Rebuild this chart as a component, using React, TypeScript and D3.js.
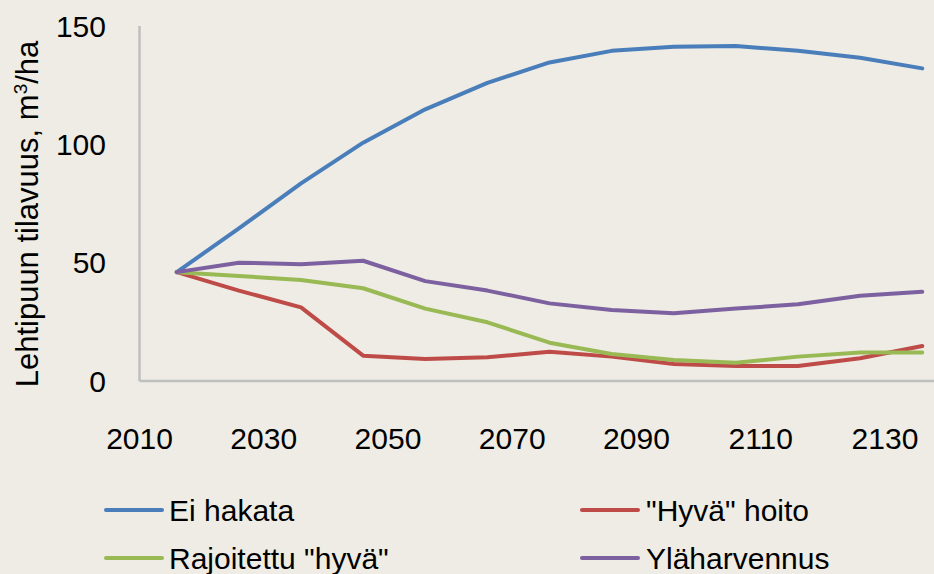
import React from "react";
import * as d3 from "d3";

const years = [2016, 2026, 2036, 2046, 2056, 2066, 2076, 2086, 2096, 2106, 2116, 2126, 2136];
const eiHakata = [46, 64.5, 83.5, 100.7, 114.8, 126, 134.6, 139.5, 141.2, 141.5, 139.5, 136.6, 132.1];
const hyvaHoito = [46, 38.2, 31.1, 10.7, 9.3, 10.0, 12.4, 10.3, 7.2, 6.3, 6.3, 9.6, 14.8];
const rajoitettu = [46, 44.4, 42.7, 39.2, 30.6, 24.8, 16.2, 11.4, 8.9, 7.7, 10.3, 12.0, 12.0];
const ylaharvennus = [46, 50.0, 49.3, 50.8, 42.2, 38.2, 32.8, 30.0, 28.6, 30.6, 32.4, 36.0, 37.7];
const seriesNames = ["Ei hakata", "\"Hyvä\" hoito", "Rajoitettu \"hyvä\"", "Yläharvennus"];
const seriesColors = ["#4A7EBB", "#BE4B48", "#98B954", "#7D60A0"];
const xTicks = [2010, 2030, 2050, 2070, 2090, 2110, 2130];
const yTicks = [0, 50, 100, 150];

export default function App() {
  const W = 934, H = 574;
  const x = d3.scaleLinear().domain([2010, 2140]).range([139.5, 947.1]);
  const y = d3.scaleLinear().domain([0, 150]).range([381, 26]);
  const allSeries = [eiHakata, hyvaHoito, rajoitettu, ylaharvennus];
  const line = d3.line<number>().x((_, i) => x(years[i])).y((d) => y(d));
  const font = "'Liberation Sans', Arial, sans-serif";
  const legendPos = [
    { lx: 106, tx: 169, ty: 510 },
    { lx: 582, tx: 646, ty: 510 },
    { lx: 106, tx: 169, ty: 558 },
    { lx: 582, tx: 646, ty: 558 },
  ];
  return (
    <svg width={W} height={H} style={{ position: "absolute", left: 0, top: 0, display: "block" }} fontFamily={font}>
      <rect x={0} y={0} width={W} height={H} fill="#EEECE4" />
      <line x1={x(2010)} x2={x(2140)} y1={y(0)} y2={y(0)} stroke="#BFBFBF" strokeWidth={2.5} />
      <line x1={x(2010)} x2={x(2010)} y1={y(0)} y2={y(150)} stroke="#BFBFBF" strokeWidth={2.5} />
      {yTicks.map((t) => (
        <text key={t} x={106} y={y(t)} dy="0.36em" textAnchor="end" fontSize={30} fill="#000">{t}</text>
      ))}
      {xTicks.map((t) => (
        <text key={t} x={x(t)} y={438} dy="0.36em" textAnchor="middle" fontSize={30} fill="#000">{t}</text>
      ))}
      <text transform={`translate(38,214) rotate(-90)`} textAnchor="middle" fontSize={31} fill="#000">
        Lehtipuun tilavuus, m<tspan fontSize={19} dy={-11}>3</tspan><tspan dy={11}>/ha</tspan>
      </text>
      {allSeries.map((s, i) => (
        <path key={i} d={line(s) || ""} fill="none" stroke={seriesColors[i]} strokeWidth={4} strokeLinejoin="round" strokeLinecap="round" />
      ))}
      {seriesNames.map((n, i) => (
        <g key={n}>
          <line x1={legendPos[i].lx} x2={legendPos[i].lx + 56} y1={legendPos[i].ty} y2={legendPos[i].ty} stroke={seriesColors[i]} strokeWidth={4} strokeLinecap="round" />
          <text x={legendPos[i].tx} y={legendPos[i].ty} dy="0.36em" fontSize={30} fill="#000">{n}</text>
        </g>
      ))}
    </svg>
  );
}
